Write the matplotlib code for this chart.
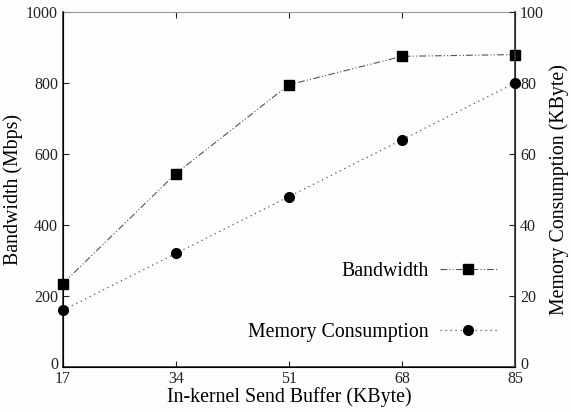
import matplotlib
matplotlib.use("Agg")
import matplotlib.pyplot as plt
from matplotlib.transforms import ScaledTranslation

buffer_kb = [17, 34, 51, 68, 85]
bandwidth = [235, 545, 795, 875, 880]
memory = [16, 32, 48, 64, 80]
x_ticks = [17, 34, 51, 68, 85]

plt.rcParams['font.family'] = ['Liberation Serif', 'DejaVu Serif']
fig = plt.figure(figsize=(5.71, 4.12), dpi=100)
fig.patch.set_facecolor('#fdfdfb')
ax = fig.add_axes([0.110, 0.109, 0.792, 0.862])
ax.set_facecolor('#fdfdfb')
ax2 = ax.twinx()

l1, = ax.plot(buffer_kb, bandwidth, color='#555555', lw=0.8, dashes=[6, 2, 1, 2, 1, 2],
              marker='s', ms=7, mfc='black', mec='black', clip_on=False, zorder=3)
l2, = ax2.plot(buffer_kb, memory, color='#555555', lw=0.9, dashes=[1, 3],
               marker='o', ms=7, mfc='black', mec='black', clip_on=False, zorder=3)

ax.set_xlim(17, 85)
ax.set_ylim(0, 1000)
ax2.set_ylim(0, 100)
ax.set_xticks(x_ticks)
ax.set_yticks([0, 200, 400, 600, 800, 1000])
ax2.set_yticks([0, 20, 40, 60, 80, 100])

for a in (ax, ax2):
    a.tick_params(direction='in', length=4, width=0.8, labelsize=11.5, colors='#222222')
ax.tick_params(axis='x', top=True, pad=3)

ax.spines['top'].set_color('#999999')
ax.spines['top'].set_linewidth(0.8)
for s in ('left', 'bottom'):
    ax.spines[s].set_linewidth(1.2)
    ax.spines[s].set_color('#333333')
ax2.spines['right'].set_linewidth(1.2)
ax2.spines['right'].set_color('#333333')
ax2.spines['top'].set_visible(False)

ax.set_xlabel('In-kernel Send Buffer (KByte)', fontsize=14.3, labelpad=0)
ax.set_ylabel('Bandwidth (Mbps)', fontsize=14.3, labelpad=2)
ax2.set_ylabel('Memory Consumption (KByte)', fontsize=14.3, labelpad=4)

ax2.legend([l1, l2], ['Bandwidth', 'Memory Consumption'], loc='lower right',
           bbox_to_anchor=(1.0, 0.02), frameon=False, markerfirst=False, fontsize=14.3,
           handlelength=2.9, labelspacing=2.1, handletextpad=0.55, borderaxespad=0.5)

# nudge the corner "0" labels up slightly, as in the reference
fig.canvas.draw()
shift = ScaledTranslation(0, 3 / 72, fig.dpi_scale_trans)
for a in (ax, ax2):
    lbl = a.get_yticklabels()[0]
    lbl.set_transform(lbl.get_transform() + shift)

fig.savefig('out.png', dpi=100, facecolor=fig.get_facecolor())
